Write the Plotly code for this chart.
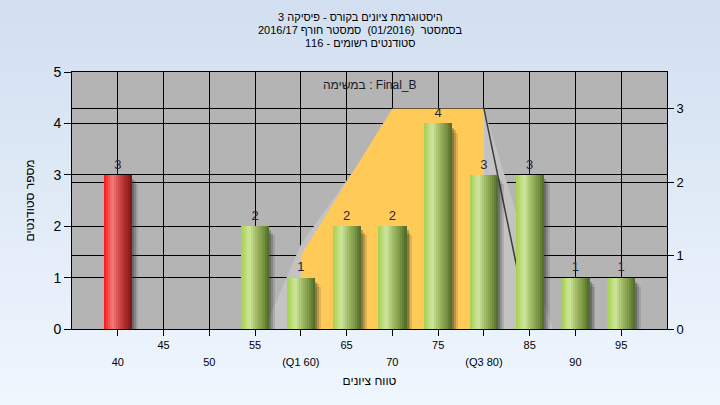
import base64
import plotly.graph_objects as go

# ---------------- data ----------------
categories = [40, 45, 50, 55, 60, 65, 70, 75, 80, 85, 90, 95]
counts = [3, 0, 0, 2, 1, 2, 2, 4, 3, 3, 1, 1]
bar_group = ["low", "ok", "ok", "ok", "ok", "ok", "ok", "ok", "ok", "ok", "ok", "ok"]

row1_vals = [45, 55, 65, 75, 85, 95]
row1_text = ["45", "55", "65", "75", "85", "95"]
row2_vals = [40, 50, 60, 70, 80, 90]
row2_text = ["40", "50", "(Q1 60)", "70", "(Q3 80)", "90"]

quart_x = [60, 70, 80]
quart_y = [1, 3, 3]
tail_x = [80, 85]
tail_y = [3, 0]
shade_x = [56, 60, 66, 70, 80, 87.5]
shade_y = [0, 1.15, 2.2, 3, 3, 0]

left_ticks = [0, 1, 2, 3, 4, 5]
right_ticks = [0, 1, 2, 3]

title_lines = ["היסטוגרמת ציונים בקורס - פיסיקה 3",
               "בסמסטר  (01/2016)  סמסטר חורף 2016/17",
               "סטודנטים רשומים - 116"]
legend_text = "במשימה : Final_B"
x_title = "טווח ציונים"
y_title = "מספר סטודנטים"

# ---------------- style ----------------
FONT = "Liberation Sans, Arial, DejaVu Sans, sans-serif"
W = 3.05
N = 14
green_stops = [(0.0, "#a3d04a"), (0.30, "#d0e6a0"), (0.50, "#a8c26c"), (0.78, "#7a9645"), (1.0, "#4e6922")]
red_stops = [(0.0, "#ff1414"), (0.30, "#f47a7a"), (0.50, "#d85050"), (0.78, "#aa2626"), (1.0, "#7a1414")]


def hex2rgb(h):
    h = h.lstrip("#")
    return tuple(int(h[i:i + 2], 16) for i in (0, 2, 4))


def grad(stops, t):
    for (t0, c0), (t1, c1) in zip(stops[:-1], stops[1:]):
        if t0 <= t <= t1:
            f = (t - t0) / (t1 - t0)
            a, b = hex2rgb(c0), hex2rgb(c1)
            return "rgb(%d,%d,%d)" % tuple(round(a[k] + (b[k] - a[k]) * f) for k in range(3))
    return stops[-1][1]


fig = go.Figure()

# secondary (right) scale: quartile area
fig.add_trace(go.Scatter(x=shade_x, y=shade_y, fill="toself", mode="lines",
                         fillcolor="#c3c3c3", line=dict(width=0, color="#c3c3c3"),
                         hoverinfo="skip", showlegend=False, xaxis="x", yaxis="y"))
fig.add_trace(go.Scatter(x=quart_x, y=quart_y, fill="tozeroy", mode="lines",
                         fillcolor="#ffca57", line=dict(width=0, color="#ffca57"),
                         hoverinfo="skip", showlegend=False, xaxis="x", yaxis="y"))
fig.add_trace(go.Scatter(x=tail_x, y=tail_y, mode="lines",
                         line=dict(width=1.5, color="#3c3c3c"),
                         hoverinfo="skip", showlegend=False, xaxis="x", yaxis="y"))

# dummy for second label row axis
fig.add_trace(go.Scatter(x=[categories[0]], y=[0], mode="markers", marker=dict(opacity=0),
                         hoverinfo="skip", showlegend=False, xaxis="x2", yaxis="y"))

# bar shadows
cats_nz = [c for c, v in zip(categories, counts) if v > 0]
vals_nz = [v for v in counts if v > 0]
shadow_layers = [(0.25, -0.05, 0.08, "rgba(45,45,45,0.30)"),
                 (0.45, -0.09, 0.13, "rgba(45,45,45,0.22)"),
                 (0.65, -0.12, 0.18, "rgba(45,45,45,0.14)")]
for dx, b, drop, col in shadow_layers:
    fig.add_trace(go.Bar(x=cats_nz, y=[v - drop - b for v in vals_nz], base=b,
                         width=W, offset=-W / 2 + dx, marker=dict(color=col, line=dict(width=0)),
                         cliponaxis=False, hoverinfo="skip", showlegend=False,
                         xaxis="x", yaxis="y2"))

# gradient bars made of slices
for i in range(N):
    t = (i + 0.5) / N
    cols = [grad(red_stops if g == "low" else green_stops, t) for g in bar_group]
    fig.add_trace(go.Bar(x=categories, y=counts, width=W / N * 1.08,
                         offset=-W / 2 + i * W / N,
                         marker=dict(color=cols, line=dict(width=0)),
                         hoverinfo="skip", showlegend=False, xaxis="x", yaxis="y2"))

# value labels
fig.add_trace(go.Scatter(x=cats_nz, y=vals_nz, mode="markers+text",
                         text=[str(v) for v in vals_nz], textposition="top center",
                         marker=dict(size=3, opacity=0),
                         textfont=dict(family=FONT, size=13, color="#26263a"),
                         cliponaxis=False, hoverinfo="skip", showlegend=False,
                         xaxis="x", yaxis="y2"))

# background gradient
svg = ('<svg xmlns="http://www.w3.org/2000/svg" width="720" height="405">'
       '<defs><linearGradient id="g" x1="0" y1="0" x2="0" y2="1">'
       '<stop offset="0" stop-color="#d2dff0"/><stop offset="1" stop-color="#eff6fe"/>'
       '</linearGradient></defs><rect width="720" height="405" fill="url(#g)"/></svg>')
src = "data:image/svg+xml;base64," + base64.b64encode(svg.encode()).decode()

ML, MR, MT, MB = 72, 53, 72, 76
PW, PH = 720 - ML - MR, 405 - MT - MB

row1_full = [row1_text[row1_vals.index(c)] if c in row1_vals else "" for c in categories]

title_font = dict(family=FONT, size=11, color="#000000")
title_annotations = [dict(text=line, xref="paper", yref="paper",
                          x=(360 - ML) / PW, y=1, xanchor="center", yanchor="middle",
                          yshift=MT - (17 + 13 * k), showarrow=False, font=title_font)
                     for k, line in enumerate(title_lines)]

axis_font = dict(family=FONT, size=11, color="#000000")
fig.update_layout(
    width=720, height=405,
    margin=dict(l=ML, r=MR, t=MT, b=MB),
    paper_bgcolor="#e2ebf7", plot_bgcolor="#b4b4b4",
    barmode="overlay", bargap=0,
    font=dict(family=FONT, color="#000000"),
    images=[dict(source=src, xref="paper", yref="paper", x=-ML / PW, y=1 + MT / PH,
                 sizex=720 / PW, sizey=405 / PH, sizing="stretch", layer="below",
                 xanchor="left", yanchor="top")],
    shapes=[dict(type="rect", xref="paper", yref="paper", x0=0, x1=1, y0=0, y1=1,
                 fillcolor="#b4b4b4", line=dict(width=0), layer="below")],
    xaxis=dict(range=[35, 100], tickvals=categories, ticktext=row1_full,
               ticks="outside", ticklen=6, tickcolor="#000", tickfont=axis_font,
               showgrid=True, gridcolor="#000000", gridwidth=1, zeroline=False,
               showline=True, linecolor="#000000", linewidth=1, mirror=True, anchor="y"),
    xaxis2=dict(range=[35, 100], overlaying="x", anchor="y", side="bottom",
                tickvals=row2_vals, ticktext=row2_text, ticks="", showgrid=False,
                showline=False, zeroline=False, tickfont=axis_font, ticklabelstandoff=25,
                title=dict(text=x_title, font=dict(family=FONT, size=12, color="#000"), standoff=9)),
    yaxis=dict(range=[0, 3.5], side="right", tickvals=right_ticks,
               ticks="outside", ticklen=6, tickcolor="#000",
               tickfont=dict(family=FONT, size=13, color="#000"),
               showgrid=True, gridcolor="#000000", gridwidth=1, zeroline=False,
               showline=True, linecolor="#000000", linewidth=1, anchor="x"),
    yaxis2=dict(range=[0, 5], overlaying="y", side="left", anchor="x", tickvals=left_ticks,
                ticks="outside", ticklen=7, tickcolor="#000",
                tickfont=dict(family=FONT, size=14, color="#000"),
                showgrid=True, gridcolor="#000000", gridwidth=1, zeroline=False,
                showline=True, linecolor="#000000", linewidth=1,
                title=dict(text=y_title, font=dict(family=FONT, size=12, color="#000"), standoff=16)),
    annotations=title_annotations + [
        dict(text=legend_text, xref="paper", yref="paper", x=0.5, y=1,
             xanchor="center", yanchor="middle", yshift=-13, showarrow=False,
             font=dict(family=FONT, size=12, color="#1a1a2a"))],
    showlegend=False,
)

fig.write_html("out.html", config={"displayModeBar": False},
               post_script="document.body.style.margin='0px';")
